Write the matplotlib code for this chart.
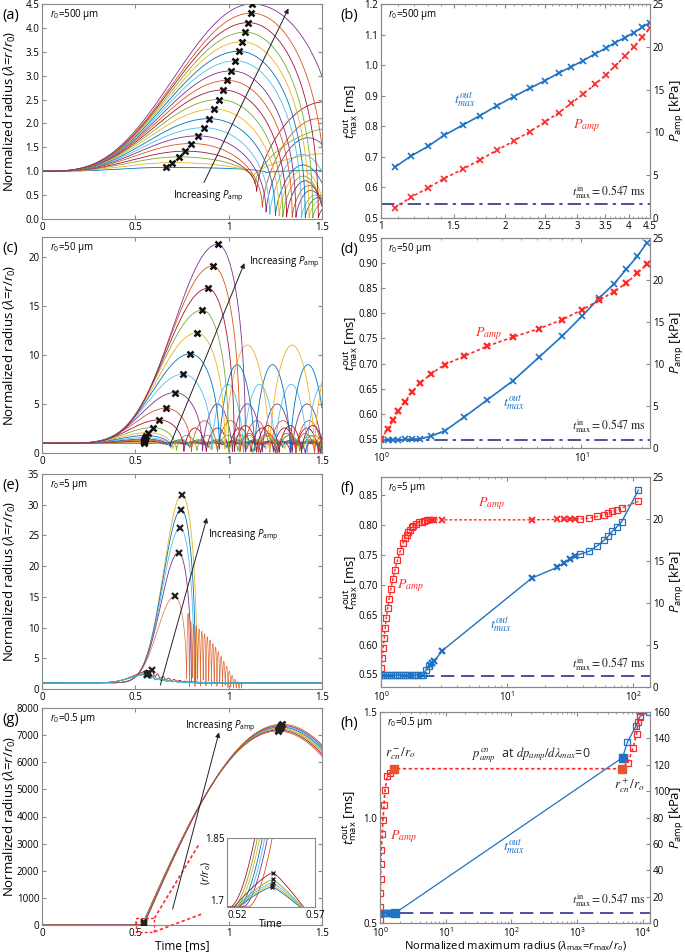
#Bubble dynamics figure: normalized radius vs time and t_max / P_amp vs lambda_max
import numpy as np
import matplotlib
matplotlib.use('Agg')
import matplotlib.pyplot as plt
from matplotlib.ticker import FixedLocator, NullFormatter, LogLocator

plt.rcParams['font.family'] = ['Open Sans', 'DejaVu Sans']
plt.rcParams['mathtext.fontset'] = 'custom'
plt.rcParams['mathtext.rm'] = 'Open Sans'
plt.rcParams['mathtext.it'] = 'Open Sans:italic'
plt.rcParams['font.size'] = 7
plt.rcParams['xtick.direction'] = 'in'
plt.rcParams['ytick.direction'] = 'in'
plt.rcParams['xtick.major.size'] = 3
plt.rcParams['ytick.major.size'] = 3
plt.rcParams['xtick.minor.size'] = 1.6
plt.rcParams['ytick.minor.size'] = 1.6
plt.rcParams['xtick.major.pad'] = 2
plt.rcParams['ytick.major.pad'] = 2
plt.rcParams['axes.edgecolor'] = '#8a8a8a'
plt.rcParams['axes.linewidth'] = 0.8
plt.rcParams['xtick.color'] = '#8a8a8a'
plt.rcParams['ytick.color'] = '#8a8a8a'
plt.rcParams['xtick.labelcolor'] = 'black'
plt.rcParams['ytick.labelcolor'] = 'black'

#MATLAB line colours, in the order they appear from the top curve downwards
cycle_desc = ['#7E2F8E', '#D95319', '#A2142F', '#77AC30', '#EDB120', '#0072BD', '#4DBEEE']
blue = '#1f72c4'
red = '#ff2a2a'
navy = '#2e3192'

#---------------- (a) r0 = 500 um ----------------
a_tpk = [0.664, 0.698, 0.734, 0.768, 0.800, 0.834, 0.866, 0.895, 0.921, 0.946,
         0.971, 0.993, 1.014, 1.036, 1.054, 1.071, 1.089, 1.105, 1.121, 1.125]
a_lpk = [1.08, 1.18, 1.30, 1.42, 1.58, 1.74, 1.91, 2.10, 2.30, 2.50,
         2.70, 2.90, 3.10, 3.31, 3.51, 3.71, 3.91, 4.11, 4.31, 4.50]
a_tcol = [1.20, 1.13, 1.14, 1.15, 1.18, 1.20, 1.22, 1.25, 1.27, 1.29,
          1.31, 1.34, 1.36, 1.39, 1.41, 1.43, 1.45, 1.48, 1.52, 1.61]
a_min = [0.97, 0.88, 0.72, 0.55, 0.2, 0.1, 0.05, 0.03, 0.02, 0.0,
         0.0, 0.0, 0.0, 0.0, 0.0, 0.0, 0.0, 0.0, 0.0, 0.0]
a_reb = [0.05, 0.5, 1.2, 1.9, 1.9, 1.6, 1.3, 1.1, 1.0, 0.9,
         0.8, 0.7, 0.6, 0.5, 0.45, 0.4, 0.35, 0.3, 0.3, 0.3]
a_per = [0.6, 0.9, 0.9, 0.72, 0.6, 0.45, 0.35, 0.3, 0.25, 0.22,
         0.2, 0.18, 0.16, 0.15, 0.14, 0.13, 0.12, 0.12, 0.12, 0.12]

#---------------- (b) ----------------
b_lam = a_lpk
b_tmax = [0.666, 0.702, 0.734, 0.770, 0.804, 0.835, 0.867, 0.897, 0.925, 0.949,
          0.974, 0.995, 1.015, 1.037, 1.055, 1.074, 1.090, 1.106, 1.124, 1.139]
b_pamp = [1.2, 2.4, 3.5, 4.6, 5.7, 6.8, 7.9, 9.0, 10.1, 11.2,
          12.3, 13.4, 14.5, 15.6, 16.7, 17.8, 18.9, 20.0, 21.1, 22.2]

#---------------- (c)/(d) r0 = 50 um ----------------
d_lam = [1.0, 1.08, 1.15, 1.22, 1.32, 1.42, 1.57, 1.78, 2.08, 2.59,
         3.37, 4.56, 6.16, 8.03, 10.1, 12.24, 14.56, 16.77, 19.05, 21.26]
d_tmax = [0.548, 0.547, 0.548, 0.548, 0.549, 0.550, 0.550, 0.556, 0.566, 0.593,
          0.627, 0.666, 0.713, 0.755, 0.795, 0.830, 0.859, 0.888, 0.914, 0.941]
d_pamp = [1.07, 2.26, 3.29, 4.37, 5.52, 6.63, 7.74, 8.85, 9.92, 10.91,
          12.10, 13.21, 14.21, 15.28, 16.47, 17.58, 18.61, 19.64, 20.83, 21.90]
c_tcol = [0.60, 0.62, 0.64, 0.65, 0.66, 0.67, 0.68, 0.69, 0.70, 0.72,
          0.76, 0.80, 0.86, 0.91, 0.95, 0.98, 1.00, 1.03, 1.06, 1.09]
c_min = [0.98, 0.95, 0.92, 0.9, 0.85, 0.8, 0.7, 0.55, 0.4, 0.2,
         0.05, 0, 0, 0, 0, 0, 0, 0, 0, 0]
c_reb = [0.03, 0.1, 0.15, 0.2, 0.3, 0.4, 0.6, 0.8, 1.0, 1.6,
         2.5, 3.3, 5.0, 7.0, 9.0, 11.0, 1.8, 2.8, 2.0, 1.2]
c_per = [0.1, 0.1, 0.1, 0.1, 0.1, 0.1, 0.1, 0.1, 0.1, 0.11,
         0.12, 0.14, 0.16, 0.17, 0.19, 0.24, 0.13, 0.12, 0.10, 0.08]

#---------------- (e)/(f) r0 = 5 um ----------------
e_tpk = [0.750, 0.746, 0.741, 0.732, 0.711, 0.589, 0.571, 0.566, 0.563, 0.5625]
e_lpk = [31.6, 29.2, 26.2, 22.2, 15.1, 3.04, 2.6, 2.45, 2.38, 2.33]
e_tcol = [0.83, 0.822, 0.815, 0.80, 0.775]
#decaying rebounds of the P_amp just above threshold
e_arcs = [12.3, 11.0, 10.6, 10.2, 9.8, 9.4, 9.0, 8.5, 8.0, 7.4,
          6.8, 6.1, 5.3, 4.5, 3.7, 2.9, 2.2, 1.6, 1.2, 1.05]
e_arc_end = 1.07

f_sq_lam = [1.0, 1.04, 1.08, 1.12, 1.16, 1.2, 1.25, 1.3, 1.35, 1.4, 1.45, 1.5, 1.56,
            1.62, 1.68, 1.75, 1.82, 1.9, 1.98, 2.06, 2.15, 2.28, 2.39,
            38.0, 44.9, 51.9, 58.6, 63.3, 68.3, 74.5, 81.0, 110.0]
f_sq_t = [0.549] * 21 + [0.558, 0.564,
          0.751, 0.756, 0.765, 0.774, 0.781, 0.789, 0.797, 0.805, 0.858]
f_x_lam = [2.43, 2.53, 2.64, 3.07, 15.7, 25.0, 28.5, 31.5, 34.5]
f_x_t = [0.565, 0.569, 0.572, 0.590, 0.711, 0.729, 0.737, 0.743, 0.748]
f_sqr_lam = [1.0, 1.02, 1.04, 1.06, 1.08, 1.1, 1.13, 1.16, 1.2, 1.24, 1.29, 1.35, 1.42,
             1.5, 1.55, 1.6, 1.65, 1.7, 1.75, 1.8, 1.9, 2.0, 2.1, 2.2, 2.3,
             38.0, 44.9, 51.9, 58.6, 63.3, 68.3, 74.5, 81.0, 110.0]
f_sqr_p = [2.3, 3.5, 4.6, 5.8, 7.0, 8.2, 9.4, 10.5, 11.7, 12.8, 13.9, 15.1, 16.2,
           17.2, 17.7, 18.1, 18.4, 18.7, 19.0, 19.2, 19.4, 19.6, 19.7, 19.8, 19.85,
           20.0, 20.1, 20.3, 20.5, 20.7, 20.9, 21.1, 21.3, 22.1]
f_xr_lam = [2.43, 2.53, 2.64, 3.07, 15.7, 25.0, 28.5, 31.5, 34.5]
f_xr_p = [19.9, 19.9, 19.9, 19.9, 19.9, 19.95, 19.95, 20.0, 20.0]

#---------------- (g)/(h) r0 = 0.5 um ----------------
g_t0 = [0.536, 0.5373, 0.5386, 0.5401, 0.5415, 0.543, 0.5445, 0.5457]
g_tpk = [1.262, 1.266, 1.270, 1.273, 1.276, 1.279, 1.282, 1.285]
g_lpk = [7150, 7190, 7230, 7270, 7300, 7330, 7360, 7400]
#inset: start of the growth, curves that blow up and curves that stop at a small peak
ins_up_t0 = [0.5215, 0.523, 0.5245, 0.526, 0.5275, 0.529, 0.532]
ins_up_t1 = [0.5358, 0.5373, 0.5386, 0.5401, 0.5415, 0.543, 0.5457]
ins_pk_t = [0.5462, 0.5460, 0.5459, 0.5458, 0.5457]
ins_pk_l = [1.775, 1.760, 1.753, 1.748, 1.744]
ins_pk_t0 = [0.524, 0.525, 0.5255, 0.526, 0.5265]
ins_pk_t1 = [0.5635, 0.5628, 0.5625, 0.562, 0.5615]

h_sqb_lam = [1.0, 1.05, 1.1, 1.15, 1.2, 1.27, 1.35, 1.45, 1.55, 5900, 7900, 9200, 12500]
h_sqb_t = [0.547] * 9 + [1.358, 1.432, 1.48, 1.50]
h_fill_lam = [1.7, 4960]
h_fill_t = [0.547, 1.284]
h_sqr_lam = [1.0, 1.0, 1.01, 1.02, 1.03, 1.05, 1.08, 1.11, 1.15, 1.19, 1.29, 1.42]
h_sqr_p = [2.0, 12.1, 22.7, 33.6, 45.0, 55.6, 67.2, 78.4, 89.2, 100.6, 111.2, 114.0]
h_sqr2_lam = [6000, 7200, 8100, 8600, 9000]
h_sqr2_p = [121.6, 133.0, 143.6, 152.4, 156.0]
h_fillr_lam = [1.64, 4800]
h_fillr_p = [117.0, 117.0]

t_in = 0.547


def radius_curve(t, tp, lp, tc, m, A, T, p):
    #rise from 1 to the peak, collapse to the minimum, then rebound arcs
    s = np.clip(t / tp, 0, 1)
    up = 1 + (lp - 1) * ((1 - np.cos(np.pi * s)) / 2) ** p
    u = np.clip((t - tp) / (tc - tp), 0, 1)
    down = m + (lp - m) * (1 - u ** 2) ** 0.45
    ph = (np.clip(t - tc, 0, None) / T) % 1
    reb = m + A * np.sin(np.pi * ph) ** 0.6
    return np.where(t < tp, up, np.where(t < tc, down, reb))


def left_axes(ax, ylim, yticks, label, r0, ytl=None):
    ax.set_xlim(0, 1.5)
    ax.set_ylim(*ylim)
    ax.set_xticks([0, 0.5, 1, 1.5])
    ax.set_xticklabels(['0', '0.5', '1', '1.5'])
    ax.set_yticks(yticks)
    if ytl is not None:
        ax.set_yticklabels(ytl)
    ax.tick_params(top=True, right=True, labelsize=7)
    ax.set_ylabel('Normalized radius ($\\lambda$=$r/r_0$)', fontsize=9.5)
    ax.yaxis.set_label_coords(-0.086, 0.5)
    ax.text(0.03, 0.95, '$r_0$=' + r0, transform=ax.transAxes, fontsize=7, va='center')
    fig.text(0.003, ax.get_position().y1 - 0.012, label, fontsize=10.5, va='center')


def right_axes(ax, ylim, yticks, ytl, rmax, rticks, label, r0):
    ax.set_ylim(*ylim)
    ax.set_yticks(yticks)
    ax.set_yticklabels(ytl)
    ax.tick_params(which='both', top=True, labelsize=7)
    ax.set_ylabel('$t^{\\rm out}_{\\rm max}$ [ms]', fontsize=9.5)
    ax.yaxis.set_label_coords(-0.078, 0.5)
    ax2 = ax.twinx()
    ax2.set_ylim(0, rmax)
    ax2.set_yticks(rticks)
    ax2.tick_params(labelsize=7)
    ax2.set_ylabel('$P_{\\rm amp}$ [kPa]', fontsize=9.5)
    ax2.yaxis.set_label_coords(1.068, 0.5)
    ax.text(0.025, 0.95, '$r_0$=' + r0, transform=ax.transAxes, fontsize=7, va='center')
    fig.text(0.497, ax.get_position().y1 - 0.012, label, fontsize=10.5, va='center')
    ax.axhline(t_in, color=navy, lw=1.2, dashes=(8, 3, 2, 3), zorder=1)
    return ax2


def serif(ax, x, y, s, color, size=9, **kw):
    ax.text(x, y, s, color=color, fontsize=size, math_fontfamily='stix', **kw)


fig = plt.figure(figsize=(6.85, 9.52), dpi=100)
W, H = 685.0, 952.0
def box(x0, y0, x1, y1):
    return [x0 / W, 1 - y1 / H, (x1 - x0) / W, (y1 - y0) / H]

ax_a = fig.add_axes(box(42, 4, 322, 219))
ax_b = fig.add_axes(box(381, 4, 650, 218))
ax_c = fig.add_axes(box(42, 237, 322, 453))
ax_d = fig.add_axes(box(381, 238, 650, 448))
ax_e = fig.add_axes(box(42, 474, 322, 689))
ax_f = fig.add_axes(box(381, 477, 650, 687))
ax_g = fig.add_axes(box(42, 708, 322, 925))
ax_h = fig.add_axes(box(380, 712, 650, 923))

t = np.linspace(0, 1.5, 3000)

#(a)
for i in range(len(a_lpk)):
    lam = radius_curve(t, a_tpk[i], a_lpk[i], a_tcol[i], a_min[i], a_reb[i], a_per[i], 1.6)
    ax_a.plot(t, lam, color=cycle_desc[(19 - i) % 7], lw=0.6)
ax_a.plot(a_tpk, a_lpk, 'x', color='#111111', ms=4.5, mew=1.8, zorder=5)
ax_a.annotate('', xy=(1.327, 4.46), xytext=(0.861, 0.71),
              arrowprops=dict(arrowstyle='-|>', color='#222222', lw=0.7, mutation_scale=7))
ax_a.text(0.70, 0.48, 'Increasing $P_{\\rm amp}$', fontsize=7, va='center')
left_axes(ax_a, (0, 4.5), np.arange(0, 4.51, 0.5), '(a)', '500 µm',
          ['%.1f' % v for v in np.arange(0, 4.51, 0.5)])

#(b)
ax_b.set_xscale('log')
ax_b.set_xlim(1, 4.5)
ax_b.xaxis.set_major_locator(FixedLocator([1, 1.5, 2, 2.5, 3, 3.5, 4, 4.5]))
ax_b.set_xticklabels(['1', '1.5', '2', '2.5', '3', '3.5', '4', '4.5'])
ax_b.xaxis.set_minor_locator(FixedLocator(np.arange(1.1, 4.5, 0.1)))
ax_b.xaxis.set_minor_formatter(NullFormatter())
ax_b.plot(b_lam, b_tmax, '-x', color=blue, lw=1.2, ms=5, mew=1.2)
bx = right_axes(ax_b, (0.5, 1.2), np.arange(0.5, 1.21, 0.1),
                ['0.5', '0.6', '0.7', '0.8', '0.9', '1.0', '1.1', '1.2'],
                25, [0, 5, 10, 15, 20, 25], '(b)', '500 µm')
bx.plot(b_lam, b_pamp, 'x', ls=(0, (2, 1.5)), color=red, lw=1.2, ms=5, mew=1.2)
serif(ax_b, 1.5, 0.876, '$t^{out}_{max}$', blue, 10)
serif(ax_b, 2.93, 0.794, '$P_{amp}$', red, 10)
serif(ax_b, 0.985, 0.585, '$t^{\\rm in}_{\\rm max} = 0.547\\ \\rm ms$', '#222222', 8.5,
      transform=ax_b.get_yaxis_transform(), ha='right', va='center')

#(c)
for i in range(len(d_lam)):
    lam = radius_curve(t, d_tmax[i], d_lam[i], c_tcol[i], c_min[i], c_reb[i], c_per[i], 3.3)
    ax_c.plot(t, lam, color=cycle_desc[(19 - i) % 7], lw=0.6)
ax_c.plot(d_tmax, d_lam, 'x', color='#111111', ms=4.5, mew=1.8, zorder=5)
ax_c.annotate('', xy=(1.09, 19.6), xytext=(0.679, 0.5),
              arrowprops=dict(arrowstyle='-|>', color='#222222', lw=0.7, mutation_scale=7))
ax_c.text(1.107, 19.4, 'Increasing $P_{\\rm amp}$', fontsize=7, va='center')
left_axes(ax_c, (0, 22), [0, 5, 10, 15, 20], '(c)', '50 µm')

#(d)
ax_d.set_xscale('log')
ax_d.set_xlim(1, 22)
ax_d.xaxis.set_major_locator(LogLocator(base=10))
ax_d.xaxis.set_minor_locator(LogLocator(base=10, subs=np.arange(2, 10)))
ax_d.xaxis.set_minor_formatter(NullFormatter())
ax_d.plot(d_lam, d_tmax, '-x', color=blue, lw=1.2, ms=5, mew=1.2)
dx = right_axes(ax_d, (0.532, 0.95), np.arange(0.55, 0.951, 0.05),
                ['%.2f' % v for v in np.arange(0.55, 0.951, 0.05)],
                25, [0, 5, 10, 15, 20, 25], '(d)', '50 µm')
dx.plot(d_lam, d_pamp, 'x', ls=(0, (2, 1.5)), color=red, lw=1.2, ms=5, mew=1.6)
serif(ax_d, 2.95, 0.754, '$P_{amp}$', red, 10)
serif(ax_d, 4.06, 0.615, '$t^{out}_{max}$', blue, 10)
serif(ax_d, 0.985, 0.575, '$t^{\\rm in}_{\\rm max} = 0.547\\ \\rm ms$', '#222222', 8.5,
      transform=ax_d.get_yaxis_transform(), ha='right', va='center')

#(e)
for k in range(len(e_lpk)):
    col = cycle_desc[(4 + k) % 7]
    if k < 5:
        lam = radius_curve(t, e_tpk[k], e_lpk[k], e_tcol[k], 0.0, 0.0, 1.0, 12)
        lam = np.where(t > e_tcol[k], 1.0, lam)
        if k == 4:
            per = (e_arc_end - e_tcol[k]) / len(e_arcs)
            idx = np.clip(((t - e_tcol[k]) / per).astype(int), 0, len(e_arcs) - 1)
            ph = ((t - e_tcol[k]) / per) % 1
            arcs = np.array(e_arcs)[idx] * np.sin(np.pi * ph) ** 0.6
            lam = np.where((t > e_tcol[k]) & (t < e_arc_end), arcs, lam)
            lam = np.where(t >= e_arc_end, 1.0, lam)
    else:
        lam = radius_curve(t, e_tpk[k], e_lpk[k], 2.0, 1.0, 0.0, 1.0, 8)
        dt = np.clip(t - e_tpk[k], 0, None)
        dec = 1 + (e_lpk[k] - 1) * np.exp(-dt / 0.09) * (0.8 + 0.2 * np.cos(2 * np.pi * dt / 0.03))
        lam = np.where(t > e_tpk[k], dec, lam)
    ax_e.plot(t, lam, color=col, lw=0.5 if k == 4 else 0.6, alpha=0.85 if k == 4 else 1)
ax_e.plot(e_tpk, e_lpk, 'x', color='#222222', ms=4.5, mew=1.6, zorder=5)
ax_e.annotate('', xy=(0.8875, 28.3), xytext=(0.63, 0.2),
              arrowprops=dict(arrowstyle='-|>', color='#222222', lw=0.7, mutation_scale=7))
ax_e.text(0.8875, 25.0, 'Increasing $P_{\\rm amp}$', fontsize=7, va='center')
left_axes(ax_e, (0, 35), np.arange(0, 36, 5), '(e)', '5 µm')

#(f)
ax_f.set_xscale('log')
ax_f.set_xlim(1, 136)
ax_f.xaxis.set_major_locator(LogLocator(base=10))
ax_f.xaxis.set_minor_locator(LogLocator(base=10, subs=np.arange(2, 10)))
ax_f.xaxis.set_minor_formatter(NullFormatter())
fb_lam = np.array(f_sq_lam + f_x_lam)
fb_t = np.array(f_sq_t + f_x_t)
o = np.argsort(fb_lam)
ax_f.plot(fb_lam[o], fb_t[o], '-', color=blue, lw=1.0)
ax_f.plot(f_sq_lam, f_sq_t, 's', mfc='none', mec=blue, ms=4.5, mew=0.9)
ax_f.plot(f_x_lam, f_x_t, 'x', color=blue, ms=5, mew=1.6)
fx = right_axes(ax_f, (0.529, 0.88), np.arange(0.55, 0.851, 0.05),
                ['%.2f' % v for v in np.arange(0.55, 0.851, 0.05)],
                25, [0, 5, 10, 15, 20, 25], '(f)', '5 µm')
ax_f.lines[-1].set_dashes((8, 4))
fr_lam = np.array(f_sqr_lam + f_xr_lam)
fr_p = np.array(f_sqr_p + f_xr_p)
o = np.argsort(fr_lam)
fx.plot(fr_lam[o], fr_p[o], ls=(0, (2, 1.5)), color=red, lw=1.0)
fx.plot(f_sqr_lam, f_sqr_p, 's', mfc='none', mec=red, ms=4.5, mew=0.9)
fx.plot(f_xr_lam, f_xr_p, 'x', color=red, ms=5, mew=1.4)
serif(ax_f, 5.89, 0.8305, '$P_{amp}$', red, 10)
serif(ax_f, 1.33, 0.694, '$P_{amp}$', red, 10)
serif(ax_f, 7.35, 0.627, '$t^{out}_{max}$', blue, 10)
serif(ax_f, 0.985, 0.567, '$t^{\\rm in}_{\\rm max} = 0.547\\ \\rm ms$', '#222222', 8.5,
      transform=ax_f.get_yaxis_transform(), ha='right', va='center')

#(g)
for k in range(len(g_lpk)):
    ph = np.clip((t - g_t0[k]) / (g_tpk[k] - g_t0[k]), 0, None)
    lam = np.maximum(1.0, g_lpk[k] * np.sin(np.pi / 2 * ph))
    ax_g.plot(t, lam, color=cycle_desc[(1 + k) % 7], lw=0.6)
ax_g.plot(g_tpk, g_lpk, 'x', color='#222222', ms=4.5, mew=1.8, zorder=5)
ax_g.plot([0.547] * 4, [10, 40, 70, 100], 'x', color='#222222', ms=4, mew=1.4, zorder=5)
ax_g.plot([0.505, 0.602, 0.602, 0.505, 0.505], [250, 250, -250, -250, 250], color=red,
          lw=1.0, dashes=(2, 1.5), clip_on=False)
ax_g.plot([0.602, 0.839], [250, 2954], color=red, lw=1.2, dashes=(2, 1.5), clip_on=False)
ax_g.plot([0.602, 0.866], [-250, 431], color=red, lw=1.2, dashes=(2, 1.5), clip_on=False)
ax_g.annotate('', xy=(0.952, 7200), xytext=(0.696, 490),
              arrowprops=dict(arrowstyle='-|>', color='#222222', lw=0.7, mutation_scale=7))
ax_g.text(0.768, 7323, 'Increasing $P_{\\rm amp}$', fontsize=7, va='center')
left_axes(ax_g, (0, 8000), np.arange(0, 8001, 1000), '(g)', '0.5 µm')
ax_g.set_xlabel('Time [ms]', fontsize=8.5, labelpad=0)

#inset of (g)
ax_in = fig.add_axes(box(227, 838, 315, 907))
ti = np.linspace(0.52, 0.57, 600)
for k in range(len(ins_up_t0)):
    s = np.clip((ti - ins_up_t0[k]) / (ins_up_t1[k] - ins_up_t0[k]), 0, None)
    ax_in.plot(ti, 1.7 + 0.15 * s ** 1.8, color=cycle_desc[(2 + k) % 7], lw=0.6)
for k in range(len(ins_pk_t)):
    left = ins_pk_l[k] - (ins_pk_l[k] - 1.7) * ((ins_pk_t[k] - ti) / (ins_pk_t[k] - ins_pk_t0[k])) ** 1.3
    right = ins_pk_l[k] - (ins_pk_l[k] - 1.7) * ((ti - ins_pk_t[k]) / (ins_pk_t1[k] - ins_pk_t[k])) ** 1.15
    lam = np.where(ti < ins_pk_t[k], left, right)
    ax_in.plot(ti, lam, color=[cycle_desc[2], cycle_desc[3], cycle_desc[6], cycle_desc[4], cycle_desc[5]][k], lw=0.6)
ax_in.plot(ins_pk_t, ins_pk_l, 'x', color='#222222', ms=2.5, mew=1.0, zorder=5)
ax_in.set_xlim(0.52, 0.57)
ax_in.set_ylim(1.7, 1.85)
ax_in.set_xticks([0.52, 0.57])
ax_in.set_xticklabels(['0.52', '0.57'])
ax_in.set_yticks([1.7, 1.85])
ax_in.set_yticklabels(['1.7', '1.85'])
ax_in.tick_params(length=0, labelsize=7, pad=2)
ax_in.get_yticklabels()[0].set_va('bottom')
ax_in.get_xticklabels()[0].set_ha('left')
ax_in.set_xlabel('Time', fontsize=7.5, labelpad=-1)
ax_in.set_ylabel('($r/r_o$)', fontsize=7.5, labelpad=-6)

#(h)
ax_h.set_xscale('log')
ax_h.set_xlim(1, 1.3e4)
ax_h.xaxis.set_major_locator(LogLocator(base=10))
ax_h.xaxis.set_minor_locator(LogLocator(base=10, subs=np.arange(2, 10), numticks=20))
ax_h.xaxis.set_minor_formatter(NullFormatter())
hb_lam = np.array(h_sqb_lam + h_fill_lam)
hb_t = np.array(h_sqb_t + h_fill_t)
o = np.argsort(hb_lam)
ax_h.plot(hb_lam[o], hb_t[o], '-', color=blue, lw=0.9)
ax_h.plot(h_sqb_lam, h_sqb_t, 's', mfc='none', mec=blue, ms=4.5, mew=0.9)
ax_h.plot(h_fill_lam, h_fill_t, 's', color=blue, ms=6)
hx = right_axes(ax_h, (0.5, 1.5), [0.5, 1.0, 1.5], ['0.5', '1.0', '1.5'],
                160, np.arange(0, 161, 20), '(h)', '0.5 µm')
ax_h.lines[-1].set_dashes((8, 4))
hr_lam = np.array(h_sqr_lam + h_fillr_lam + h_sqr2_lam)
hr_p = np.array(h_sqr_p + h_fillr_p + h_sqr2_p)
o = np.argsort(hr_lam, kind='stable')
hx.plot(hr_lam[o], hr_p[o], ls=(0, (2, 1.5)), color=red, lw=1.2)
hx.plot(h_sqr_lam + h_sqr2_lam, h_sqr_p + h_sqr2_p, 's', mfc='none', mec=red, ms=4.5, mew=0.9)
hx.plot(h_fillr_lam, h_fillr_p, 's', color='#e8552a', ms=6)
serif(hx, 1.19, 128, '$r^-_{cn}/r_o$', '#222222', 9.5, va='center')
serif(hx, 25, 127, '$p^{cn}_{amp}$  at $dp_{amp}/d\\lambda_{max}$=0', '#222222', 9, va='center')
serif(hx, 3650, 104.6, '$r^+_{cn}/r_o$', '#222222', 9.5, va='center')
serif(hx, 1.42, 65.2, '$P_{amp}$', red, 10, va='center')
serif(hx, 76, 57.6, '$t^{out}_{max}$', blue, 10, va='center')
serif(ax_h, 0.985, 0.608, '$t^{\\rm in}_{\\rm max} = 0.547\\ \\rm ms$', '#222222', 8.5,
      transform=ax_h.get_yaxis_transform(), ha='right', va='center')
ax_h.set_xlabel('Normalized maximum radius ($\\lambda_{\\rm max}$=$r_{\\rm max}/r_o$)',
                fontsize=8, labelpad=0)

fig.savefig('out.png', dpi=100)
